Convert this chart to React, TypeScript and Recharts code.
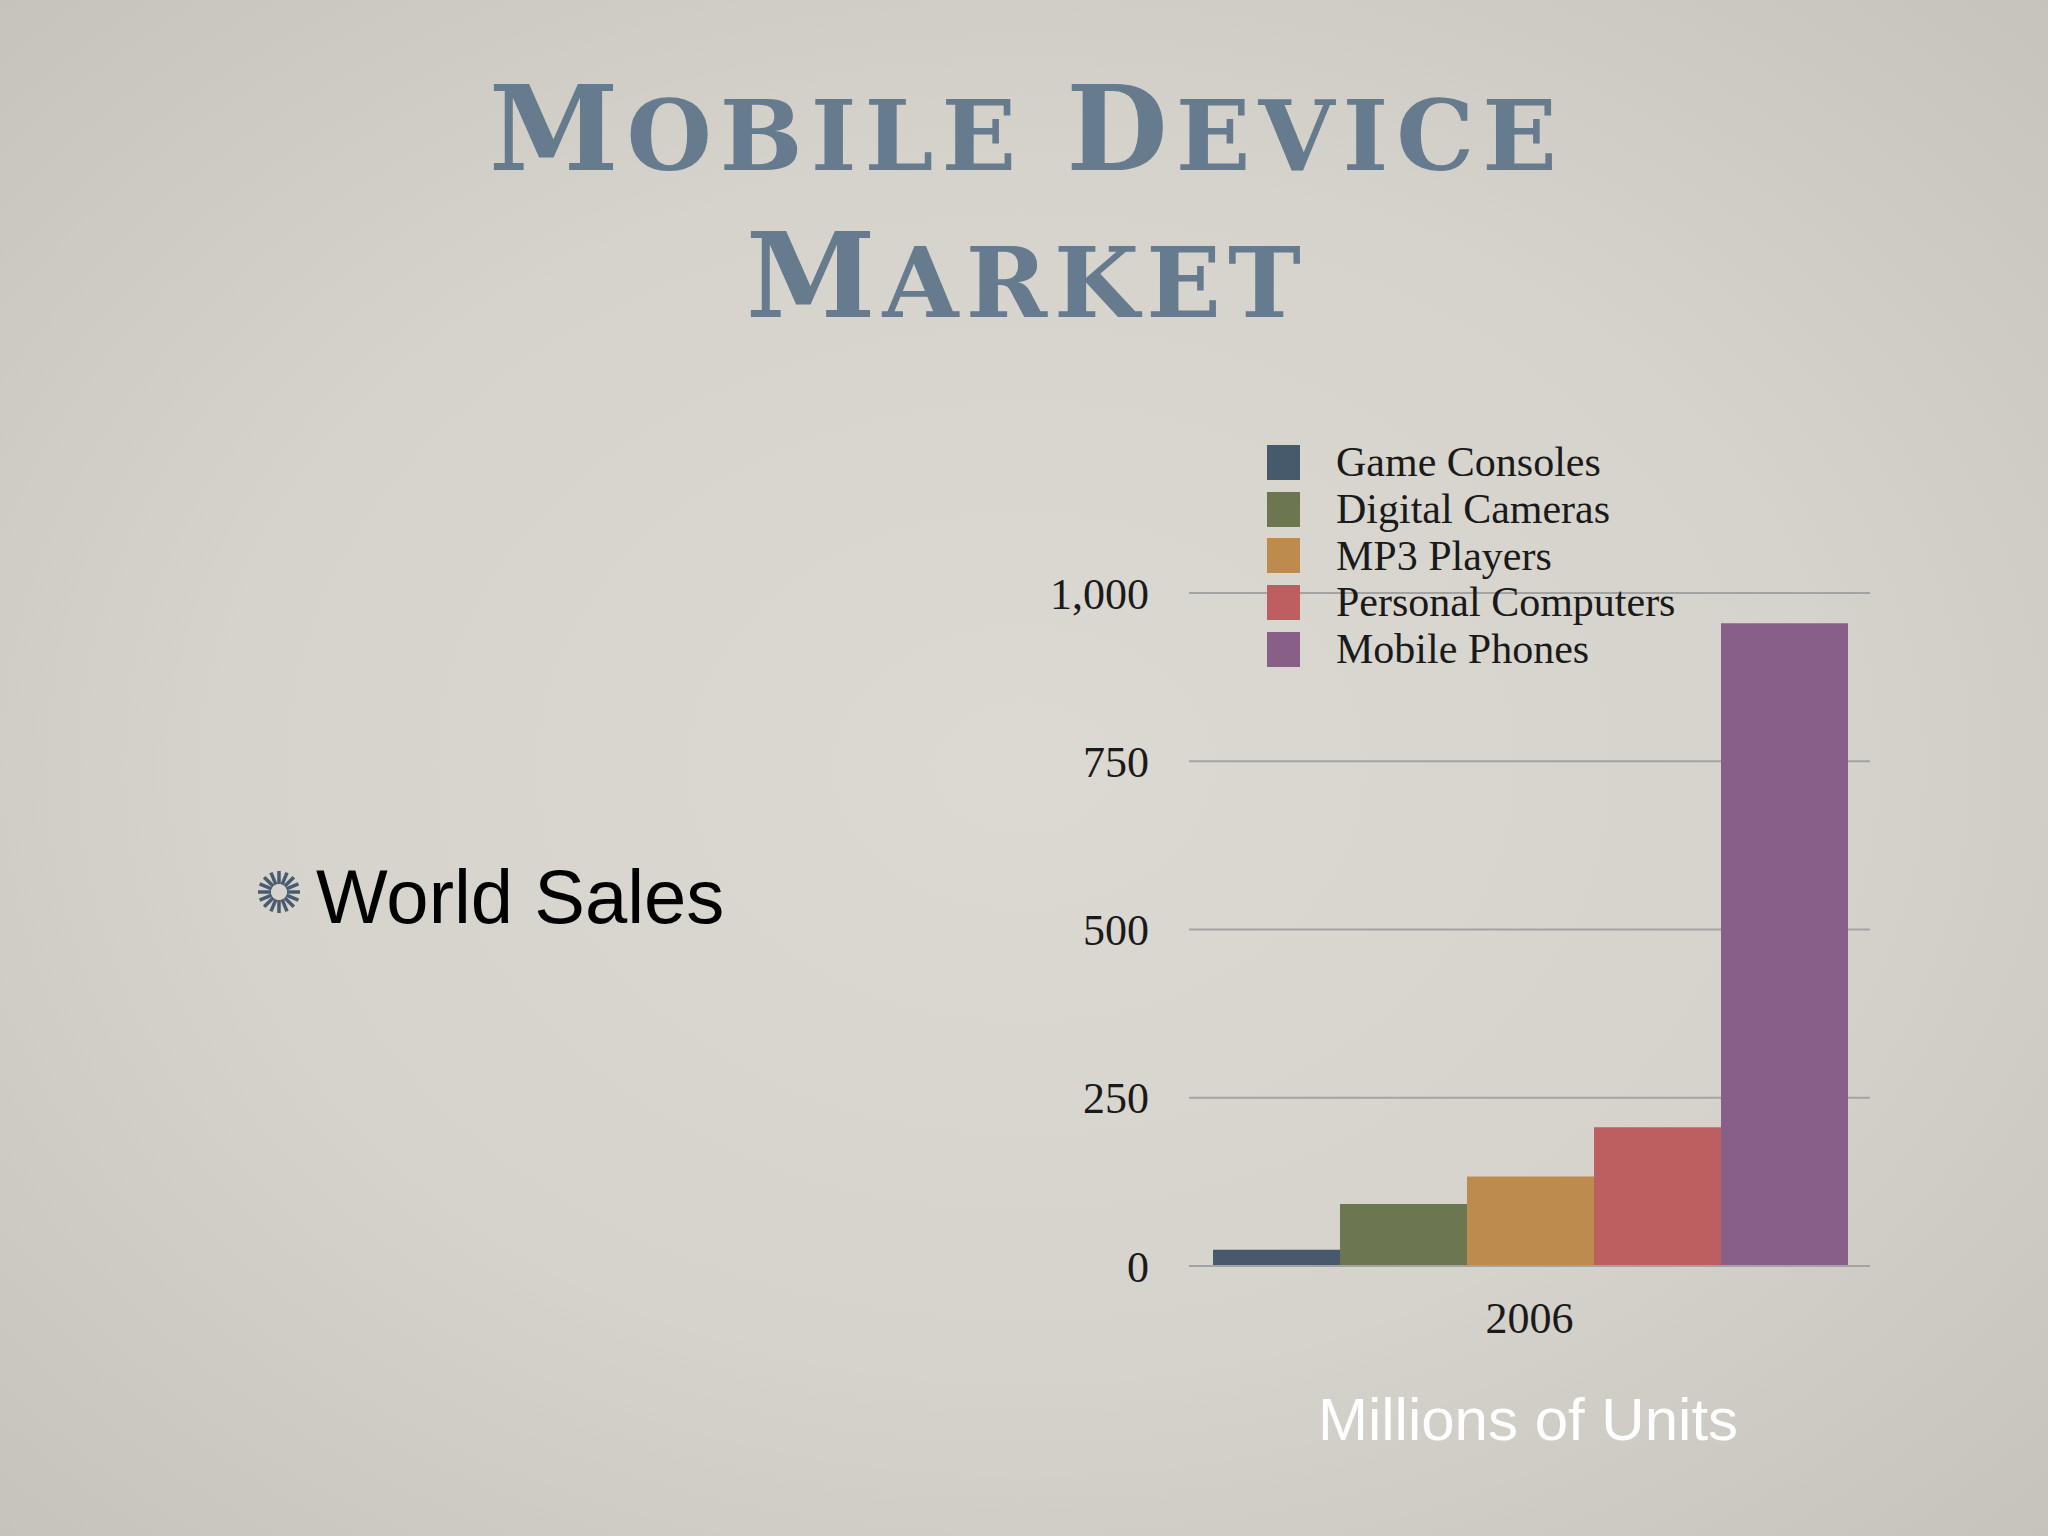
import { BarChart, Bar, XAxis, YAxis, CartesianGrid } from "recharts";

const categories = ["2006"];
const seriesNames = ["Game Consoles", "Digital Cameras", "MP3 Players", "Personal Computers", "Mobile Phones"];
const seriesValues = [24, 92, 133, 206, 955];
const seriesColors = ["#475a6c", "#6c7752", "#bd8b4d", "#bd5f60", "#885f87"];
const yTicks = [0, 250, 500, 750, 1000];

const data = categories.map((year) => {
  const row: Record<string, any> = { year };
  seriesNames.forEach((name, i) => {
    row[name] = seriesValues[i];
  });
  return row;
});

const serif = "'Liberation Serif', 'DejaVu Serif', serif";
const sans = "'Liberation Sans', Arial, sans-serif";
const titleColor = "#667b8e";
const gridColor = "#a3a4a2";

function Burst({ cx, cy }: { cx: number; cy: number }) {
  const spokes = Array.from({ length: 16 }, (_, i) => (i * 360) / 16);
  return (
    <g>
      {spokes.map((a) => {
        const r = (a * Math.PI) / 180;
        return (
          <line
            key={a}
            x1={cx + Math.cos(r) * 8}
            y1={cy + Math.sin(r) * 8}
            x2={cx + Math.cos(r) * 21}
            y2={cy + Math.sin(r) * 21}
            stroke="#4a5b6f"
            strokeWidth={3.5}
          />
        );
      })}
    </g>
  );
}

export default function App() {
  return (
    <div
      style={{
        position: "absolute",
        left: 0,
        top: 0,
        width: 2048,
        height: 1536,
        overflow: "hidden",
        background: "radial-gradient(ellipse at 50% 50%, #dcd9d3 0%, #d6d3cd 55%, #c6c3bd 100%)",
      }}
    >
      <svg width={2048} height={1536} style={{ position: "absolute", left: 0, top: 0 }}>
        <text
          x={1027}
          y={170}
          textAnchor="middle"
          fill={titleColor}
          fontFamily="'DejaVu Serif', serif"
          fontWeight="bold"
          letterSpacing={8}
        >
          <tspan fontSize={117}>M</tspan>
          <tspan fontSize={98}>OBILE </tspan>
          <tspan fontSize={117}>D</tspan>
          <tspan fontSize={98}>EVICE</tspan>
        </text>
        <text
          x={1027}
          y={317}
          textAnchor="middle"
          fill={titleColor}
          fontFamily="'DejaVu Serif', serif"
          fontWeight="bold"
          letterSpacing={7}
        >
          <tspan fontSize={117}>M</tspan>
          <tspan fontSize={98}>ARKET</tspan>
        </text>
        <Burst cx={279} cy={892} />
        <text x={316} y={923} fontFamily={sans} fontSize={76} fill="#000">
          World Sales
        </text>
        <text x={1528} y={1440} textAnchor="middle" fontFamily={sans} fontSize={60} fill="#ffffff">
          Millions of Units
        </text>
      </svg>

      <div style={{ position: "absolute", left: 1000, top: 400 }}>
        <BarChart
          width={900}
          height={946}
          data={data}
          margin={{ top: 193, right: 30, left: 0, bottom: 0 }}
          barCategoryGap={24}
          barGap={0}
        >
          <CartesianGrid vertical={false} stroke={gridColor} strokeWidth={2} />
          <XAxis
            dataKey="year"
            height={80}
            axisLine={{ stroke: gridColor, strokeWidth: 2 }}
            tickLine={false}
            tickSize={0}
            tickMargin={36}
            tick={{ fill: "#1a1a1a", fontSize: 44, fontFamily: serif }}
          />
          <YAxis
            width={189}
            domain={[0, 1000]}
            ticks={yTicks}
            axisLine={false}
            tickLine={false}
            tickSize={0}
            tickMargin={40}
            tickFormatter={(v: number) => v.toLocaleString("en-US")}
            tick={{ fill: "#1a1a1a", fontSize: 44, fontFamily: serif }}
          />
          {seriesNames.map((name, i) => (
            <Bar key={name} dataKey={name} fill={seriesColors[i]} isAnimationActive={false} />
          ))}
        </BarChart>
      </div>

      <div style={{ position: "absolute", left: 1267, top: 439 }}>
        {seriesNames.map((name, i) => (
          <div key={name} style={{ display: "flex", alignItems: "center", height: 46.7 }}>
            <div style={{ width: 33, height: 35, background: seriesColors[i], marginRight: 36 }} />
            <span style={{ fontFamily: serif, fontSize: 42, color: "#1a1a1a", lineHeight: "46px" }}>{name}</span>
          </div>
        ))}
      </div>
    </div>
  );
}
